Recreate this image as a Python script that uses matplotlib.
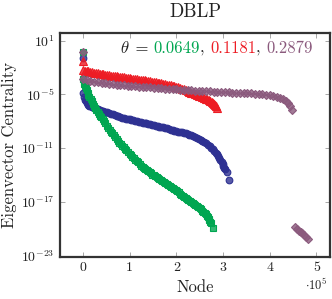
import matplotlib
matplotlib.use("Agg")
import matplotlib.pyplot as plt
import numpy as np
from matplotlib.ticker import FixedLocator, FuncFormatter, NullLocator

plt.rcParams['font.family'] = 'serif'
plt.rcParams['font.serif'] = ['cmr10']
plt.rcParams['mathtext.fontset'] = 'cm'
plt.rcParams['axes.unicode_minus'] = False
plt.rcParams['axes.formatter.use_mathtext'] = True

# ---- data (x in units of 1e5 nodes, y as log10 of eigenvector centrality) ----
green_x = [0.00, 0.00, 0.015, 0.03, 0.045, 0.06, 0.08, 0.10, 0.12, 0.14, 0.165, 0.19, 0.215, 0.24,
           0.265, 0.29, 0.315, 0.34, 0.365, 0.39, 0.42, 0.45, 0.48, 0.51, 0.54, 0.57, 0.60, 0.63,
           0.66, 0.69, 0.72, 0.75, 0.78, 0.81, 0.84, 0.87, 0.90, 0.93, 0.965, 1.00, 1.03, 1.06,
           1.09, 1.12, 1.15, 1.18, 1.215, 1.25, 1.28, 1.31, 1.34, 1.37, 1.40, 1.43, 1.46, 1.49,
           1.52, 1.55, 1.58, 1.61, 1.64, 1.67, 1.70, 1.73, 1.76, 1.79, 1.825, 1.86, 1.895, 1.93,
           1.96, 1.99, 2.02, 2.05, 2.08, 2.11, 2.14, 2.17, 2.20, 2.23, 2.26, 2.29, 2.32, 2.35,
           2.38, 2.41, 2.44, 2.47, 2.50, 2.53, 2.555, 2.58, 2.605, 2.63, 2.65, 2.67, 2.69, 2.71,
           2.725, 2.74, 2.78]
green_log = [-0.3, -3.3, -3.6, -3.9, -4.1, -4.3, -4.55, -4.8, -5.05, -5.3, -5.55, -5.8, -6.05, -6.3,
             -6.55, -6.75, -6.98, -7.2, -7.38, -7.55, -7.78, -8.0, -8.25, -8.5, -8.72, -8.95, -9.15,
             -9.35, -9.58, -9.8, -10.0, -10.2, -10.38, -10.55, -10.72, -10.9, -11.08, -11.25,
             -11.45, -11.65, -11.8, -11.95, -12.12, -12.3, -12.45, -12.6, -12.8, -13.0, -13.12,
             -13.25, -13.38, -13.5, -13.6, -13.7, -13.82, -13.95, -14.05, -14.15, -14.25, -14.35,
             -14.48, -14.6, -14.7, -14.8, -14.9, -15.0, -15.1, -15.2, -15.32, -15.45, -15.58,
             -15.7, -15.82, -15.95, -16.08, -16.2, -16.32, -16.45, -16.55, -16.65, -16.78, -16.9,
             -17.0, -17.1, -17.22, -17.35, -17.48, -17.6, -17.72, -17.85, -17.98, -18.1, -18.25,
             -18.4, -18.55, -18.7, -18.88, -19.05, -19.22, -19.4, -19.9]

blue_x = [0.00, 0.00, 0.02, 0.04, 0.06, 0.08, 0.105, 0.13, 0.165, 0.20, 0.24, 0.28, 0.32, 0.36, 0.40,
          0.44, 0.48, 0.52, 0.56, 0.60, 0.64, 0.68, 0.72, 0.76, 0.80, 0.84, 0.88, 0.92, 0.96, 1.00,
          1.04, 1.08, 1.12, 1.16, 1.20, 1.24, 1.28, 1.32, 1.36, 1.40, 1.44, 1.48, 1.52, 1.56, 1.60,
          1.64, 1.68, 1.72, 1.76, 1.80, 1.84, 1.88, 1.92, 1.96, 2.00, 2.04, 2.08, 2.12, 2.16, 2.20,
          2.24, 2.28, 2.32, 2.36, 2.40, 2.44, 2.48, 2.52, 2.56, 2.60, 2.64, 2.68, 2.715, 2.75,
          2.78, 2.81, 2.84, 2.87, 2.895, 2.92, 2.945, 2.97, 2.99, 3.01, 3.03, 3.05, 3.08, 3.13]
blue_log = [-0.9, -4.9, -5.3, -5.6, -5.8, -6.0, -6.15, -6.25, -6.35, -6.45, -6.53, -6.6, -6.68, -6.75,
            -6.82, -6.9, -6.95, -7.0, -7.08, -7.15, -7.22, -7.3, -7.38, -7.45, -7.52, -7.6, -7.65,
            -7.7, -7.75, -7.8, -7.85, -7.9, -7.95, -8.0, -8.05, -8.1, -8.15, -8.2, -8.25, -8.3,
            -8.35, -8.4, -8.45, -8.5, -8.55, -8.6, -8.65, -8.7, -8.75, -8.8, -8.88, -8.95, -9.0,
            -9.05, -9.1, -9.15, -9.2, -9.25, -9.3, -9.35, -9.42, -9.5, -9.58, -9.65, -9.75, -9.85,
            -9.95, -10.05, -10.18, -10.3, -10.45, -10.6, -10.78, -10.95, -11.12, -11.3, -11.5,
            -11.7, -11.92, -12.15, -12.38, -12.6, -12.8, -13.0, -13.18, -13.35, -13.65, -14.6]

red_x = [0.00, 0.00, 0.04, 0.08, 0.12, 0.16, 0.20, 0.24, 0.28, 0.32, 0.36, 0.40, 0.44, 0.48, 0.52,
         0.56, 0.60, 0.64, 0.68, 0.72, 0.76, 0.80, 0.84, 0.88, 0.92, 0.96, 1.00, 1.04, 1.08, 1.12,
         1.16, 1.20, 1.24, 1.28, 1.32, 1.36, 1.40, 1.44, 1.48, 1.52, 1.56, 1.60, 1.64, 1.68, 1.72,
         1.76, 1.80, 1.84, 1.88, 1.92, 1.96, 2.00, 2.04, 2.08, 2.12, 2.16, 2.20, 2.24, 2.28, 2.32,
         2.36, 2.40, 2.44, 2.48, 2.52, 2.56, 2.60, 2.63, 2.665, 2.70, 2.73, 2.76, 2.785, 2.81,
         2.83, 2.85, 2.87]
red_log = [-1.3, -2.3, -2.35, -2.4, -2.45, -2.5, -2.54, -2.58, -2.62, -2.66, -2.7, -2.74, -2.77, -2.8,
           -2.84, -2.87, -2.9, -2.93, -2.97, -3.0, -3.03, -3.06, -3.09, -3.12, -3.15, -3.18, -3.21,
           -3.24, -3.27, -3.3, -3.33, -3.36, -3.39, -3.42, -3.45, -3.48, -3.51, -3.55, -3.58,
           -3.62, -3.66, -3.7, -3.74, -3.78, -3.82, -3.87, -3.91, -3.96, -4.01, -4.06, -4.11,
           -4.17, -4.23, -4.3, -4.37, -4.45, -4.53, -4.62, -4.71, -4.8, -4.89, -4.98, -5.06,
           -5.15, -5.23, -5.32, -5.41, -5.48, -5.56, -5.65, -5.75, -5.85, -5.95, -6.05, -6.17,
           -6.3, -6.55]

purple_x = [0.00, 0.00, 0.08, 0.16, 0.24, 0.32, 0.40, 0.48, 0.56, 0.64, 0.72, 0.80, 0.88, 0.96, 1.04,
            1.12, 1.20, 1.28, 1.36, 1.44, 1.52, 1.60, 1.68, 1.76, 1.84, 1.92, 2.00, 2.08, 2.16,
            2.24, 2.32, 2.40, 2.48, 2.56, 2.64, 2.72, 2.80, 2.88, 2.96, 3.04, 3.12, 3.20, 3.28,
            3.36, 3.44, 3.52, 3.60, 3.68, 3.76, 3.84, 3.92, 4.00, 4.08, 4.16, 4.23, 4.29, 4.34,
            4.39, 4.43, 4.48, 4.54, 4.58, 4.62, 4.66, 4.70, 4.74, 4.78, 4.82]
purple_log = [-0.3, -3.33, -3.42, -3.5, -3.57, -3.64, -3.7, -3.76, -3.82, -3.87, -3.92, -3.96, -4.0,
              -4.04, -4.07, -4.1, -4.14, -4.17, -4.2, -4.23, -4.26, -4.29, -4.32, -4.35, -4.38,
              -4.41, -4.44, -4.47, -4.5, -4.53, -4.56, -4.59, -4.62, -4.64, -4.66, -4.68, -4.7,
              -4.72, -4.74, -4.76, -4.78, -4.8, -4.82, -4.84, -4.86, -4.88, -4.9, -4.93, -4.96,
              -5.0, -5.05, -5.11, -5.18, -5.27, -5.4, -5.55, -5.75, -6.0, -6.3, -6.8,
              -19.8, -20.0, -20.2, -20.35, -20.5, -20.7, -20.95, -21.2]

theta_values = ["0.0649", "0.1181", "0.2879"]
x_tick_vals = [0, 1, 2, 3, 4, 5]
y_tick_exps = [1, -5, -11, -17, -23]

GREEN = '#00a651'
BLUE = '#2e3192'
RED = '#ed1c24'
PURPLE = '#8b5a7d'
TXT = '#222222'

fig = plt.figure(figsize=(3.32, 2.99), dpi=100)
ax = fig.add_axes([60 / 332, 1 - 256.5 / 299, 270 / 332, (256.5 - 32.5) / 299])

def plot_series(xs, logs, color, marker, ms):
    x = np.array(xs) * 1e5
    y = 10.0 ** np.array(logs)
    ax.plot(x, y, linestyle='none', marker=marker, markersize=ms,
            markerfacecolor=matplotlib.colors.to_rgba(color, 0.8),
            markeredgecolor=color, markeredgewidth=0.8)

plot_series(blue_x, blue_log, BLUE, 'o', 4.8)
plot_series(green_x, green_log, GREEN, 's', 4.8)
plot_series(red_x, red_log, RED, '^', 6.0)
plot_series(purple_x, purple_log, PURPLE, 'D', 4.0)

ax.set_yscale('log')
ax.set_xlim(-0.49e5, 5.29e5)
ax.set_ylim(10 ** -23.1, 10 ** 1.9)

ax.xaxis.set_major_locator(FixedLocator([v * 1e5 for v in x_tick_vals]))
ax.xaxis.set_major_formatter(FuncFormatter(lambda v, p: f"{int(round(v / 1e5))}"))
ax.yaxis.set_major_locator(FixedLocator([10.0 ** e for e in y_tick_exps]))
ax.yaxis.set_major_formatter(FuncFormatter(lambda v, p: r"$10^{%d}$" % int(round(np.log10(v)))))
ax.yaxis.set_minor_locator(NullLocator())
ax.xaxis.set_minor_locator(NullLocator())

ax.tick_params(axis='both', which='major', direction='in', length=3.5, width=0.6,
               color='#999999', labelsize=10, labelcolor=TXT, top=True, right=True, pad=4)
for s in ax.spines.values():
    s.set_linewidth(1.6)
    s.set_color('#333333')

ax.set_xlabel('Node', fontsize=12, color=TXT, labelpad=4)
ax.set_ylabel('Eigenvector Centrality', fontsize=12, color=TXT, labelpad=2.5)
fig.text(195 / 332, 1 - 12 / 299, 'DBLP', fontsize=13.5, color=TXT, ha='center', va='center')
fig.text(316 / 332, 1 - 285 / 299, r'$\cdot 10^5$', fontsize=9, color=TXT, ha='center', va='center')

# multicolour annotation
parts = [(r'$\theta$', TXT), (' = ', TXT), (theta_values[0], GREEN), (', ', TXT),
         (theta_values[1], RED), (', ', TXT), (theta_values[2], PURPLE)]
fig.canvas.draw()
renderer = fig.canvas.get_renderer()
texts = []
for s, c in parts:
    t = fig.text(0, 0, s, fontsize=12, color=c, ha='left', va='baseline')
    texts.append(t)
widths = [t.get_window_extent(renderer).width for t in texts]
total = sum(widths)
right_px = 313
base_px = 299 - 53
x0 = right_px - total
for t, w in zip(texts, widths):
    t.set_position((x0 / 332, base_px / 299))
    x0 += w

fig.savefig('out.png', dpi=100)
